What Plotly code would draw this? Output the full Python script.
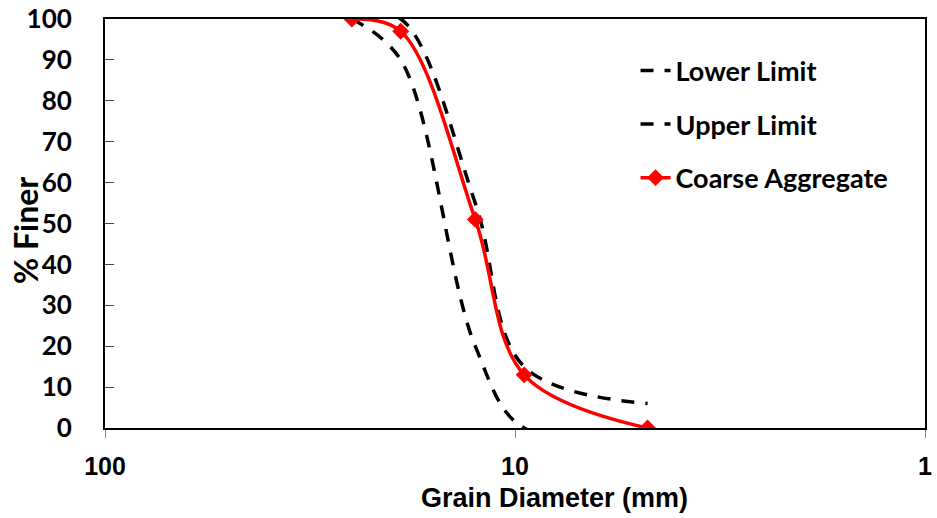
import plotly.graph_objects as go

sizes = [25, 19, 12.5, 9.5, 4.75]
lower_limit = [100, 90, 20, 0, 0]
upper_limit = [100, 100, 55, 15, 6]
coarse_aggregate = [100, 97, 51, 13, 0]

FONT = "Lato"
ARIAL = "Liberation Sans, Arial"

fig = go.Figure()
fig.add_trace(go.Scatter(
    x=sizes, y=lower_limit, name="Lower Limit", mode="lines",
    line=dict(color="black", width=3.5, dash="13px,11px", shape="spline", smoothing=1),
    legendgroup="a"))
fig.add_trace(go.Scatter(
    x=sizes, y=upper_limit, name="Upper Limit", mode="lines",
    line=dict(color="black", width=3.5, dash="13px,11px", shape="spline", smoothing=1),
    legendgroup="b"))
fig.add_trace(go.Scatter(
    x=sizes, y=coarse_aggregate, name="Coarse Aggregate", mode="lines+markers",
    line=dict(color="#ff0000", width=3.5, shape="spline", smoothing=1),
    marker=dict(symbol="diamond", size=13, color="#ff0000"),
    legendgroup="c"))

fig.update_layout(
    width=937, height=518,
    margin=dict(l=105, r=12, t=19, b=90),
    plot_bgcolor="white", paper_bgcolor="white",
    font=dict(family=FONT, size=26, color="black"),
    showlegend=True,
    legend=dict(x=0.647, y=0.933, xanchor="left", yanchor="top",
                bgcolor="rgba(0,0,0,0)", tracegroupgap=15.5,
                traceorder="grouped",
                font=dict(family=FONT, size=27, color="black", weight="bold")),
    annotations=[
        dict(text="<b>Grain Diameter (mm)</b>", xref="paper", yref="paper",
             x=0.5476, y=-0.171, xanchor="center", yanchor="middle", showarrow=False,
             font=dict(family=ARIAL, size=27, color="black")),
        dict(text="<b>% Finer</b>", xref="paper", yref="paper", textangle=-90,
             x=-0.0963, y=0.4817, xanchor="center", yanchor="middle", showarrow=False,
             font=dict(family=FONT, size=32, color="black")),
    ],
)
fig.update_xaxes(
    type="log", range=[2, 0], autorange=False, automargin=False,
    tickvals=[100, 10, 1], ticktext=["100", "10", "1"],
    ticks="outside", ticklen=8, tickcolor="#888", tickwidth=1,
    showline=True, linecolor="black", linewidth=2, mirror=True,
    showgrid=False, zeroline=False,
    tickfont=dict(family=ARIAL, size=25, weight="bold"),
    ticklabelstandoff=7,
)
fig.update_yaxes(
    range=[0, 100], autorange=False, automargin=False, tick0=0, dtick=10,
    ticks="inside", ticklen=9, tickcolor="#444", tickwidth=1,
    showline=True, linecolor="black", linewidth=2, mirror=True,
    showgrid=False, zeroline=False,
    tickfont=dict(family=FONT, size=26, weight="bold"),
    ticklabelstandoff=26,
)

fig.write_html("out.html")
